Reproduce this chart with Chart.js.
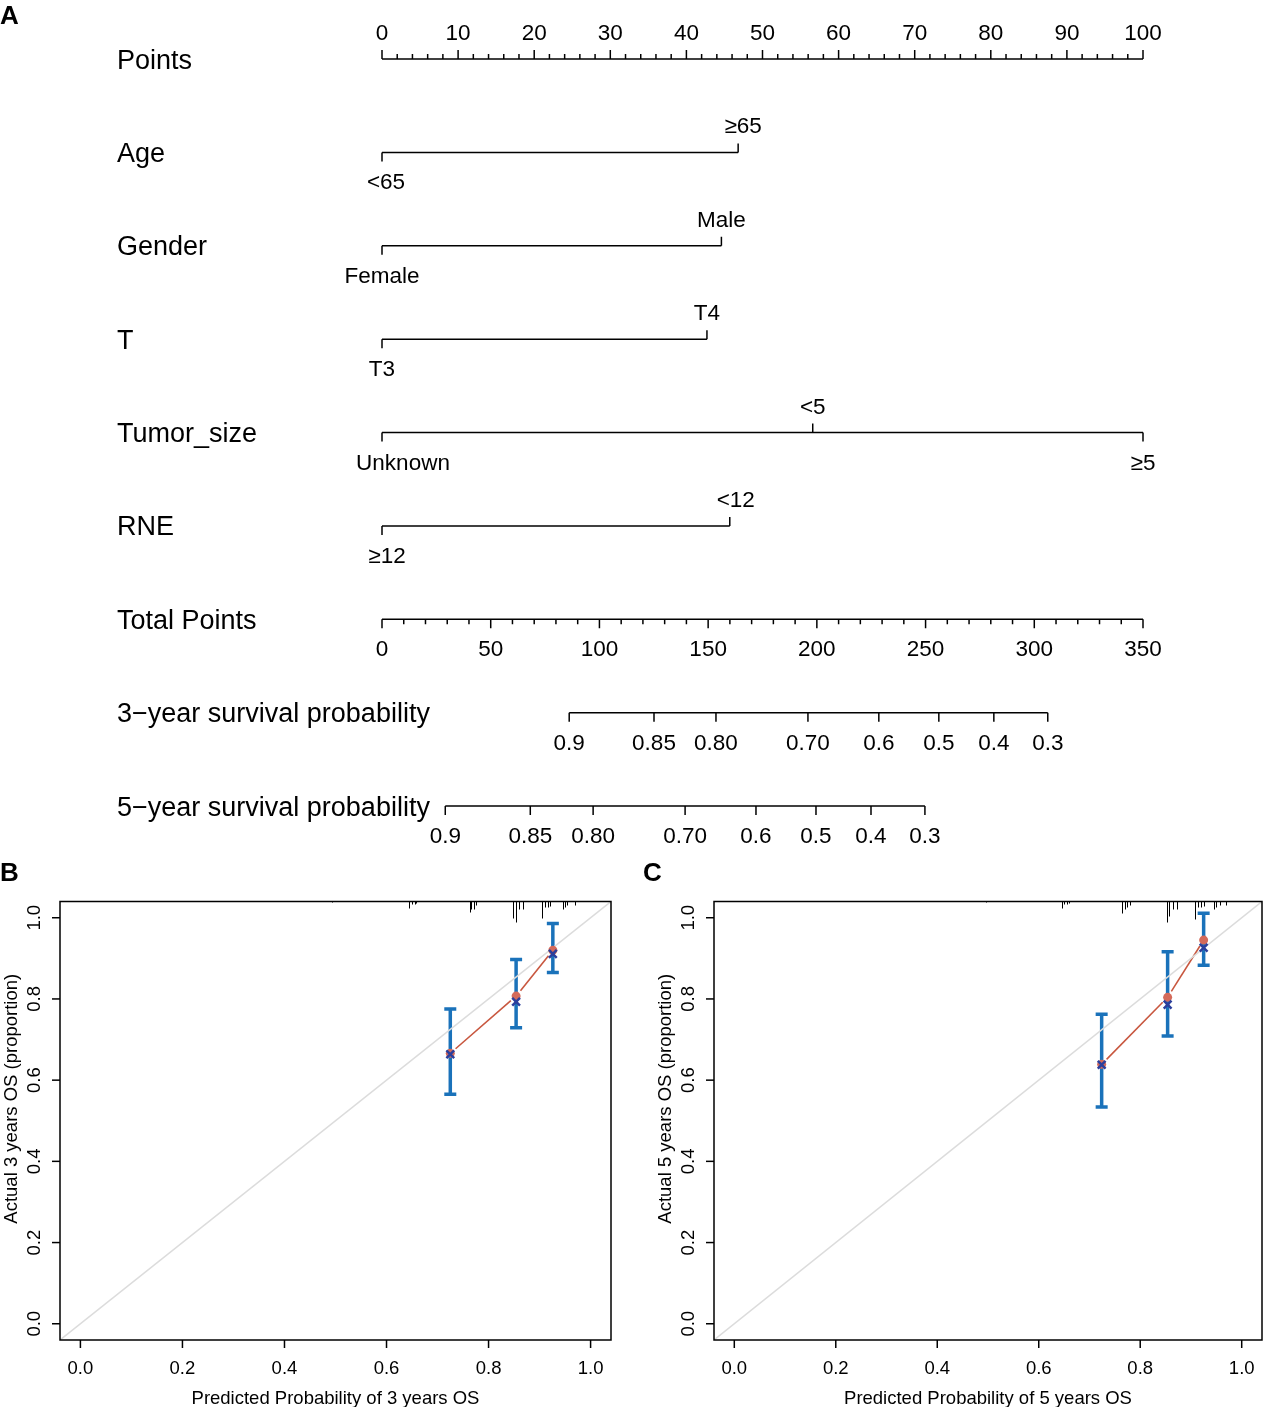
<!DOCTYPE html>
<html>
<head>
<meta charset="utf-8">
<script src="https://cdn.jsdelivr.net/npm/chart.js@4.4.1/dist/chart.umd.min.js"></script>
<style>
html, body { margin: 0; padding: 0; background: #fff; }
#wrap { position: relative; width: 1264px; height: 1407px; overflow: hidden; }
canvas { position: absolute; }
</style>
</head>
<body>
<div id="wrap">
  <canvas id="nomo" width="1264" height="860" style="left:0;top:0"></canvas>
  <canvas id="calB" width="632" height="547" style="left:0;top:860px"></canvas>
  <canvas id="calC" width="632" height="547" style="left:632px;top:860px"></canvas>
</div>
<script>
const FONT = '"Liberation Sans", Arial, sans-serif';

// ---- nomogram (panel A) ----
const rowNames = ['Points', 'Age', 'Gender', 'T', 'Tumor_size', 'RNE', 'Total Points',
  '3\u2212year survival probability', '5\u2212year survival probability'];
const pointTicks = [0, 10, 20, 30, 40, 50, 60, 70, 80, 90, 100];
const ageLevels = ['<65', '≥65'];
const agePoints = [0, 46.8];
const genderLevels = ['Female', 'Male'];
const genderPoints = [0, 44.6];
const tLevels = ['T3', 'T4'];
const tPoints = [0, 42.7];
const sizeLevels = ['Unknown', '<5', '≥5'];
const sizePoints = [0, 56.6, 100];
const rneLevels = ['≥12', '<12'];
const rnePoints = [0, 45.7];
const totalTicks = [0, 50, 100, 150, 200, 250, 300, 350];
const survLabels = ['0.9', '0.85', '0.80', '0.70', '0.6', '0.5', '0.4', '0.3'];
const surv3Total = [86.1, 125.1, 153.6, 195.9, 228.5, 256.1, 281.4, 306.2];
const surv5Total = [29.1, 68.2, 97.1, 139.4, 172.0, 199.6, 224.9, 249.7];

// ---- calibration (panels B, C) ----
const calTicks = [0, 0.2, 0.4, 0.6, 0.8, 1.0];
const predB = [0.725, 0.854, 0.926];
const obsB = [0.666, 0.807, 0.920];
const corrB = [0.664, 0.793, 0.911];
const lowB = [0.565, 0.729, 0.865];
const highB = [0.775, 0.897, 0.986];
const rugXB = [0.494, 0.645, 0.650, 0.655, 0.658, 0.763, 0.766, 0.771, 0.776, 0.848, 0.854, 0.859, 0.867,
  0.905, 0.910, 0.916, 0.920, 0.945, 0.949, 0.954, 0.969];
const rugNB = [1, 7, 3, 3, 2, 11, 8, 8, 4, 17, 21, 8, 8, 17, 6, 6, 5, 8, 6, 4, 4];

const predC = [0.724, 0.854, 0.925];
const obsC = [0.639, 0.804, 0.945];
const corrC = [0.638, 0.786, 0.926];
const lowC = [0.534, 0.709, 0.883];
const highC = [0.762, 0.916, 1.011];
const rugXC = [0.496, 0.645, 0.650, 0.655, 0.660, 0.765, 0.770, 0.774, 0.779, 0.852, 0.857, 0.864, 0.872,
  0.908, 0.913, 0.919, 0.925, 0.945, 0.950, 0.958, 0.970];
const rugNC = [1, 7, 3, 3, 2, 12, 8, 6, 4, 21, 15, 8, 8, 18, 6, 6, 5, 8, 6, 4, 4];

const AX_MIN = -0.04, AX_MAX = 1.04;

const factors = [[ageLevels, agePoints], [genderLevels, genderPoints], [tLevels, tPoints],
  [sizeLevels, sizePoints], [rneLevels, rnePoints]];
const labelNudge = { 'Unknown': 21, '<65': 4, '≥65': 5, '<12': 6, '≥12': 5 };

function seg(a, b, row, axis) {
  return {
    data: [{ x: a, y: row }, { x: b, y: row }], xAxisID: axis, showLine: true,
    borderColor: '#000', borderWidth: 1.5, pointRadius: 0, clip: false
  };
}

const nomoSets = [seg(0, pointTicks[pointTicks.length - 1], 0, 'x')];
factors.forEach(([lv, pts], k) => nomoSets.push(seg(Math.min(...pts), Math.max(...pts), k + 1, 'x')));
nomoSets.push(seg(0, totalTicks[totalTicks.length - 1], 6, 'xt'));
nomoSets.push(seg(surv3Total[0], surv3Total[surv3Total.length - 1], 7, 'xt'));
nomoSets.push(seg(surv5Total[0], surv5Total[surv5Total.length - 1], 8, 'xt'));

const nomoPlugin = {
  id: 'nomo',
  afterDatasetsDraw(chart) {
    const ctx = chart.ctx;
    const xs = chart.scales.x, xt = chart.scales.xt, ys = chart.scales.y;
    ctx.save();
    ctx.strokeStyle = '#000';
    ctx.fillStyle = '#000';
    ctx.lineWidth = 1.5;
    const tick = (px, y, len) => {
      ctx.beginPath(); ctx.moveTo(px, y); ctx.lineTo(px, y + len); ctx.stroke();
    };
    const lab = (t, px, y) => { ctx.fillText(t, px + (labelNudge[t] || 0), y); };

    // panel letter
    ctx.font = 'bold 26px ' + FONT;
    ctx.textAlign = 'left';
    ctx.fillText('A', 0, 24);

    // row names
    ctx.font = '27px ' + FONT;
    rowNames.forEach((name, i) => ctx.fillText(name, 117, ys.getPixelForValue(i) + 9.5));

    ctx.font = '22.5px ' + FONT;
    ctx.textAlign = 'center';

    // Points axis
    let y = ys.getPixelForValue(0);
    for (let v = 0; v <= 100; v += 2) tick(xs.getPixelForValue(v), y, v % 10 === 0 ? -9 : -5);
    pointTicks.forEach(v => lab(String(v), xs.getPixelForValue(v), y - 19));

    // factor rows
    factors.forEach(([lv, pts], k) => {
      const yy = ys.getPixelForValue(k + 1);
      lv.forEach((name, j) => {
        const px = xs.getPixelForValue(pts[j]);
        const below = j % 2 === 0;
        tick(px, yy, below ? 9 : -9);
        lab(name, px, yy + (below ? 37 : -19));
      });
    });

    // Total points
    y = ys.getPixelForValue(6);
    for (let v = 0; v <= 350; v += 10) tick(xt.getPixelForValue(v), y, v % 50 === 0 ? 9 : 5);
    totalTicks.forEach(v => lab(String(v), xt.getPixelForValue(v), y + 37));

    // survival probability rows
    [[surv3Total, 7], [surv5Total, 8]].forEach(([tp, r]) => {
      const yy = ys.getPixelForValue(r);
      tp.forEach((v, j) => {
        const px = xt.getPixelForValue(v);
        tick(px, yy, 9);
        lab(survLabels[j], px, yy + 37);
      });
    });
    ctx.restore();
  }
};

new Chart(document.getElementById('nomo').getContext('2d'), {
  type: 'scatter',
  data: { datasets: nomoSets },
  options: {
    responsive: false,
    animation: false,
    devicePixelRatio: 1,
    events: [],
    layout: { autoPadding: false, padding: { left: 382, right: 121, top: 59, bottom: 54 } },
    scales: {
      x: { type: 'linear', min: 0, max: 100, display: false },
      xt: { type: 'linear', axis: 'x', min: 0, max: 350, display: false },
      y: { type: 'linear', min: 0, max: 8, reverse: true, display: false }
    },
    plugins: { legend: { display: false }, tooltip: { enabled: false } }
  },
  plugins: [nomoPlugin]
});

// ---- calibration plots ----
function rotText(ctx, t, cx, cy, size) {
  ctx.save();
  ctx.translate(cx, cy);
  ctx.rotate(-Math.PI / 2);
  ctx.textAlign = 'center';
  ctx.fillText(t, 0, 0.36 * size);
  ctx.restore();
}

function calibChart(id, letter, letterX, pred, obs, corr, low, high, rugX, rugN, xTitle, yTitle, pad) {
  const calPlugin = {
    id: 'cal' + letter,
    beforeDatasetsDraw(chart) {
      const ctx = chart.ctx, xs = chart.scales.x, ys = chart.scales.y, a = chart.chartArea;
      ctx.save();
      // rug of predicted risks
      ctx.strokeStyle = '#000';
      ctx.lineWidth = 1;
      rugX.forEach((v, i) => {
        const px = Math.round(xs.getPixelForValue(v)) + 0.5;
        ctx.beginPath(); ctx.moveTo(px, a.top); ctx.lineTo(px, a.top + rugN[i]); ctx.stroke();
      });
      // observed line with gaps (type "b")
      ctx.strokeStyle = '#C8573F';
      ctx.lineWidth = 1.6;
      for (let i = 0; i < pred.length - 1; i++) {
        const x0 = xs.getPixelForValue(pred[i]), y0 = ys.getPixelForValue(obs[i]);
        const x1 = xs.getPixelForValue(pred[i + 1]), y1 = ys.getPixelForValue(obs[i + 1]);
        const d = Math.hypot(x1 - x0, y1 - y0), ux = (x1 - x0) / d, uy = (y1 - y0) / d, g = 7;
        ctx.beginPath(); ctx.moveTo(x0 + ux * g, y0 + uy * g); ctx.lineTo(x1 - ux * g, y1 - uy * g); ctx.stroke();
      }
      // error bars
      ctx.strokeStyle = '#1A72BA';
      ctx.lineWidth = 3.5;
      pred.forEach((v, i) => {
        const px = xs.getPixelForValue(v), yl = ys.getPixelForValue(low[i]), yh = ys.getPixelForValue(high[i]);
        ctx.beginPath();
        ctx.moveTo(px, yl); ctx.lineTo(px, yh);
        ctx.moveTo(px - 6, yl); ctx.lineTo(px + 6, yl);
        ctx.moveTo(px - 6, yh); ctx.lineTo(px + 6, yh);
        ctx.stroke();
      });
      ctx.restore();
    },
    afterDraw(chart) {
      const ctx = chart.ctx, xs = chart.scales.x, ys = chart.scales.y, a = chart.chartArea;
      ctx.save();
      ctx.strokeStyle = '#000';
      ctx.fillStyle = '#000';
      ctx.lineWidth = 1.5;
      ctx.strokeRect(a.left, a.top, a.right - a.left, a.bottom - a.top);
      ctx.font = '18.5px ' + FONT;
      ctx.textAlign = 'center';
      calTicks.forEach(v => {
        const px = xs.getPixelForValue(v);
        ctx.beginPath(); ctx.moveTo(px, a.bottom); ctx.lineTo(px, a.bottom + 8); ctx.stroke();
        ctx.fillText(v.toFixed(1), px, a.bottom + 33.5);
        const py = ys.getPixelForValue(v);
        ctx.beginPath(); ctx.moveTo(a.left, py); ctx.lineTo(a.left - 8, py); ctx.stroke();
        rotText(ctx, v.toFixed(1), a.left - 27, py, 18.5);
      });
      ctx.fillText(xTitle, (a.left + a.right) / 2, a.bottom + 63.5);
      rotText(ctx, yTitle, a.left - 50, (a.top + a.bottom) / 2 - 22, 18.5);
      ctx.font = 'bold 26px ' + FONT;
      ctx.textAlign = 'left';
      ctx.fillText(letter, letterX, 21);
      ctx.restore();
    }
  };

  new Chart(document.getElementById(id).getContext('2d'), {
    type: 'scatter',
    data: {
      datasets: [
        {
          data: pred.map((x, i) => ({ x, y: corr[i] })),
          pointStyle: 'crossRot', pointRadius: 5.5, borderColor: '#2C3F9C', borderWidth: 2.5,
          backgroundColor: '#2C3F9C'
        },
        {
          data: pred.map((x, i) => ({ x, y: obs[i] })),
          pointStyle: 'circle', pointRadius: 4.5, borderWidth: 0,
          backgroundColor: '#D46A5A'
        },
        {
          data: [{ x: AX_MIN, y: AX_MIN }, { x: AX_MAX, y: AX_MAX }],
          showLine: true, pointRadius: 0, borderColor: '#DCDCDC', borderWidth: 1.5
        }
      ]
    },
    options: {
      responsive: false,
      animation: false,
      devicePixelRatio: 1,
      events: [],
      layout: { autoPadding: false, padding: pad },
      scales: {
        x: { type: 'linear', min: AX_MIN, max: AX_MAX, display: false },
        y: { type: 'linear', min: AX_MIN, max: AX_MAX, display: false }
      },
      plugins: { legend: { display: false }, tooltip: { enabled: false } }
    },
    plugins: [calPlugin]
  });
}

calibChart('calB', 'B', 0, predB, obsB, corrB, lowB, highB, rugXB, rugNB,
  'Predicted Probability of 3 years OS', 'Actual 3 years OS (proportion)',
  { left: 60, right: 21, top: 41.5, bottom: 67 });
calibChart('calC', 'C', 11, predC, obsC, corrC, lowC, highC, rugXC, rugNC,
  'Predicted Probability of 5 years OS', 'Actual 5 years OS (proportion)',
  { left: 82, right: 2, top: 41.5, bottom: 67 });
</script>
</body>
</html>
